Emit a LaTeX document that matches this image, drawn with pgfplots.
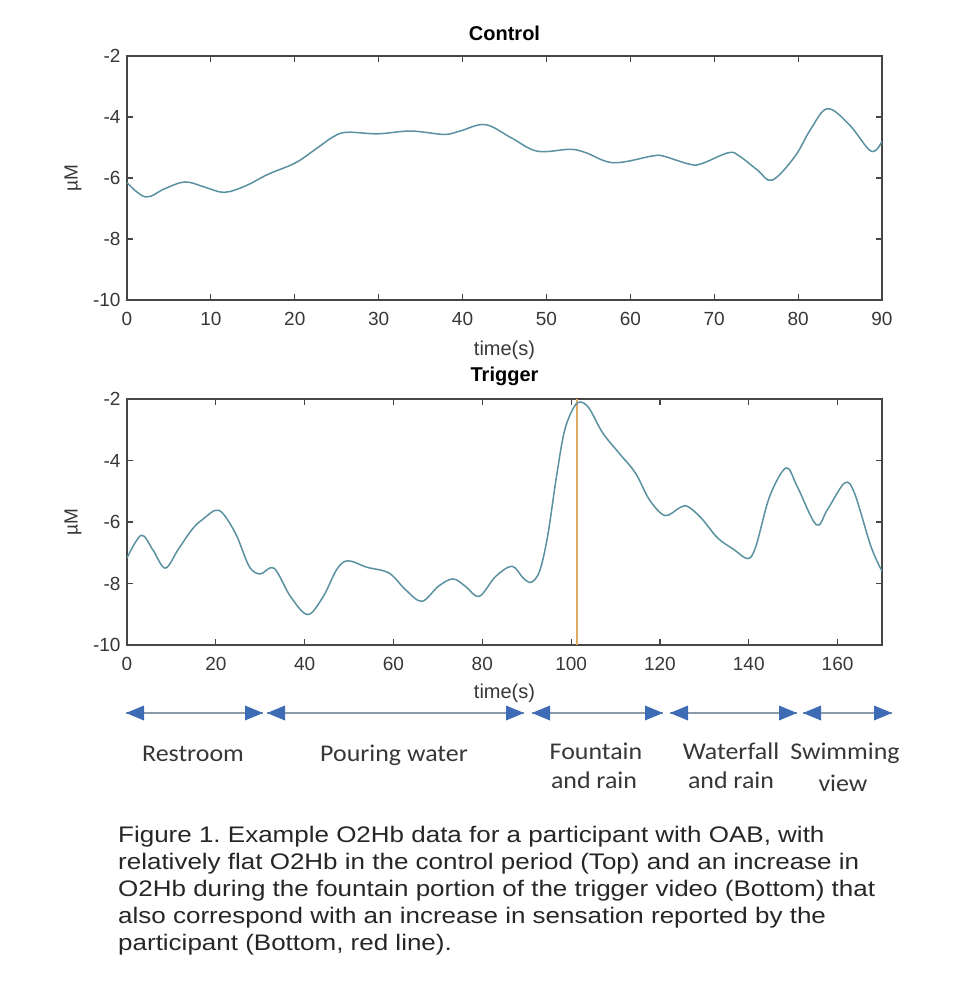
\documentclass[border=0pt]{standalone}
\usepackage{pgfplots}
\pgfplotsset{compat=1.18}
\usepackage{fontspec}
\setmainfont{Liberation Sans}
\newfontfamily\calib[FakeStretch=1.08]{Carlito}
\newfontfamily\capfont[FakeStretch=1.155]{Liberation Sans}
\definecolor{axgray}{RGB}{70,70,70}
\definecolor{lblgray}{RGB}{55,55,55}
\definecolor{sig}{RGB}{90,145,160}
\definecolor{vmark}{RGB}{222,170,100}
\definecolor{arrblue}{RGB}{62,108,180}
\definecolor{arrline}{RGB}{140,155,170}
\frenchspacing
\begin{document}
\begin{tikzpicture}[x=1pt,y=1pt]
\path (0,0) rectangle (974,-989);
\pgfplotsset{oxy/.style={
  scale only axis, width=755pt, xmin=0, ymin=-10, ymax=-2,
  ytick={-10,-8,-6,-4,-2},
  tick align=inside, major tick length=6pt,
  axis line style={draw=axgray, line width=1.6pt},
  tick style={draw=axgray, line width=1.2pt},
  ticklabel style={font=\fontsize{19}{22}\selectfont, text=lblgray},
  xticklabel style={yshift=-9pt},
  yticklabel style={xshift=-3pt},
  /pgf/number format/assume math mode=true,
  every axis x label/.style={at={(axis description cs:0.5,0)}, anchor=center, yshift=-50pt, font=\fontsize{20}{24}\selectfont, text=lblgray},
  every axis y label/.style={at={(axis description cs:0,0.5)}, anchor=center, xshift=-54pt, rotate=90, font=\fontsize{19}{22}\selectfont, text=lblgray},
  title style={at={(axis description cs:0.5,1)}, anchor=center, yshift=17pt, font=\bfseries\fontsize{20}{24}\selectfont},
  ylabel={µM}, xlabel={time(s)},
}}
\begin{axis}[oxy, height=244pt, at={(127pt,-300pt)}, anchor=south west,
  xmax=90, xtick={0,10,...,90}, title={Control}]
\addplot[sig, line width=1.5pt, smooth, tension=0.6] coordinates {
(0,-6.15)(2.2,-6.62)(4.5,-6.35)(6.9,-6.13)(9.3,-6.3)(11.6,-6.47)(14.2,-6.25)(16.8,-5.88)(20.1,-5.5)
(22.5,-5.05)(24.7,-4.63)(26.3,-4.5)(29.9,-4.55)(33.8,-4.46)(37.8,-4.57)(39.7,-4.46)(42.7,-4.25)
(45.8,-4.68)(48.9,-5.12)(52.8,-5.06)(54.7,-5.17)(58,-5.5)(62.6,-5.28)(63.9,-5.28)(67.1,-5.55)
(68.5,-5.53)(71.7,-5.17)(73,-5.28)(75.2,-5.75)(76.9,-6.07)(79.6,-5.3)(81.5,-4.4)(83.5,-3.73)
(86.1,-4.25)(88.7,-5.12)(90,-4.79)};
\end{axis}
\begin{axis}[oxy, height=246pt, at={(127pt,-645pt)}, anchor=south west,
  xmax=170, xtick={0,20,...,160}, title={Trigger}, every axis x label/.append style={yshift=2pt}]
\addplot[vmark, line width=1.3pt] coordinates {(101.3,-10)(101.3,-2)};
\addplot[sig, line width=1.5pt, smooth, tension=0.55] coordinates {
(0,-7.17)(3.2,-6.43)(5.8,-6.9)(8.6,-7.5)(11.5,-6.9)(14.6,-6.25)(17,-5.92)(20.7,-5.62)(24.4,-6.36)
(27.5,-7.44)(30,-7.69)(33.1,-7.5)(36.8,-8.42)(40.7,-9.01)(44.2,-8.42)(47.2,-7.55)(49.7,-7.26)
(54,-7.47)(59,-7.66)(62.7,-8.2)(66.4,-8.58)(70.1,-8.09)(73.4,-7.85)(76.2,-8.09)(79.3,-8.42)
(83,-7.77)(86.7,-7.44)(89.2,-7.82)(91,-7.96)(92.9,-7.6)(94.7,-6.47)(96.6,-4.62)(98.4,-3.1)
(100.3,-2.35)(101.9,-2.1)(104,-2.29)(107.1,-3.1)(110.8,-3.76)(114.5,-4.41)(117.6,-5.27)
(121.1,-5.79)(124.4,-5.54)(126.2,-5.49)(129.3,-5.87)(133,-6.52)(136.7,-6.9)(139.8,-7.19)
(141.6,-6.79)(144.7,-5.17)(148.4,-4.24)(150.9,-4.84)(155.2,-6.09)(157.7,-5.6)(161.6,-4.73)
(163.8,-5.06)(167.5,-6.79)(170,-7.6)};
\end{axis}
% phase arrows
\foreach \a/\b in {126/263, 267/524, 532/663, 670/797, 803/892}{
  \draw[arrline, line width=1.8pt] (\a,-713) -- (\b,-713);
  \fill[arrblue] (\a,-713) -- (\a+18,-705.5) -- (\a+18,-720.5) -- cycle;
  \fill[arrblue] (\b,-713) -- (\b-18,-705.5) -- (\b-18,-720.5) -- cycle;
}
\begin{scope}[every node/.style={anchor=base, font=\calib\fontsize{24}{28}\selectfont, text=lblgray, inner sep=0pt}]
\node at (193,-761) {Restroom};
\node at (394,-761) {Pouring water};
\node at (596,-759) {Fountain};
\node at (594,-788) {and rain};
\node at (731,-759) {Waterfall};
\node at (731,-788) {and rain};
\node at (845,-759) {Swimming};
\node at (843,-791) {view};
\end{scope}
\begin{scope}[every node/.style={anchor=base west, font=\capfont\fontsize{22.5}{27}\selectfont, text=black!85, inner sep=0pt}]
\node at (118,-842) {Figure 1. Example O2Hb data for a participant with OAB, with};
\node at (118,-869) {relatively flat O2Hb in the control period (Top) and an increase in};
\node at (118,-896) {O2Hb during the fountain portion of the trigger video (Bottom) that};
\node at (118,-923) {also correspond with an increase in sensation reported by the};
\node at (118,-950) {participant (Bottom, red line).};
\end{scope}
\end{tikzpicture}
\end{document}
